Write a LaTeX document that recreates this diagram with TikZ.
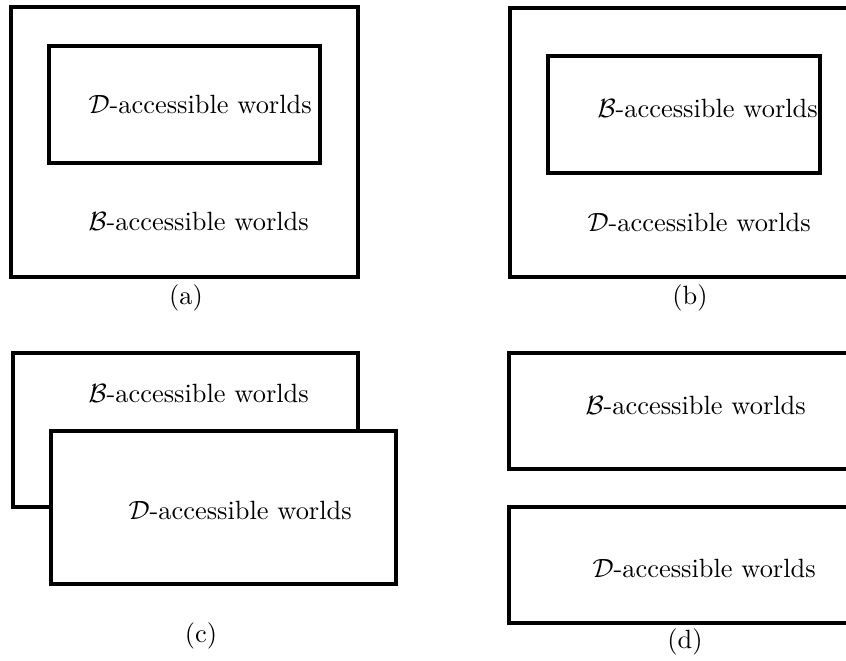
\documentclass[tikz,border=0pt]{standalone}
\begin{document}
\begin{tikzpicture}[x=0.3788pt,y=-0.3788pt,
  world/.style={draw=black,line width=1.2pt,fill=white},
  lbl/.style={anchor=west,inner sep=0pt,font=\fontsize{10}{12}\selectfont},
  captext/.style={inner sep=0pt,font=\fontsize{10}{12}\selectfont}]
\clip (0,0) rectangle (846,661);

% (a) D-worlds nested inside B-worlds
\draw[world] (11,7) rectangle (358,277);
\draw[world] (49,46) rectangle (320,163);
\node[lbl] (aD) at (88,104) {$\mathcal{D}$-accessible worlds};
\node[lbl] (aB) at (88,221) {$\mathcal{B}$-accessible worlds};
\node[captext] (capa) at (186,298) {(a)};

% (b) B-worlds nested inside D-worlds
\draw[world] (510,8) rectangle (870,277);
\draw[world] (548,56) rectangle (820,173);
\node[lbl] (bB) at (597,108) {$\mathcal{B}$-accessible worlds};
\node[lbl] (bD) at (587,222) {$\mathcal{D}$-accessible worlds};
\node[captext] (capb) at (690,298) {(b)};

% (c) overlapping sets
\draw[world] (13,353) rectangle (358,507);
\draw[world] (51,431) rectangle (396,584);
\node[lbl] (cB) at (88,393) {$\mathcal{B}$-accessible worlds};
\node[lbl] (cD) at (128,510) {$\mathcal{D}$-accessible worlds};
\node[captext] (capc) at (201,636) {(c)};

% (d) disjoint sets
\draw[world] (509,353) rectangle (870,469);
\draw[world] (509,507) rectangle (870,623);
\node[lbl] (dB) at (585,405) {$\mathcal{B}$-accessible worlds};
\node[lbl] (dD) at (592,568) {$\mathcal{D}$-accessible worlds};
\node[captext] (capd) at (685,642) {(d)};
\end{tikzpicture}
\end{document}
